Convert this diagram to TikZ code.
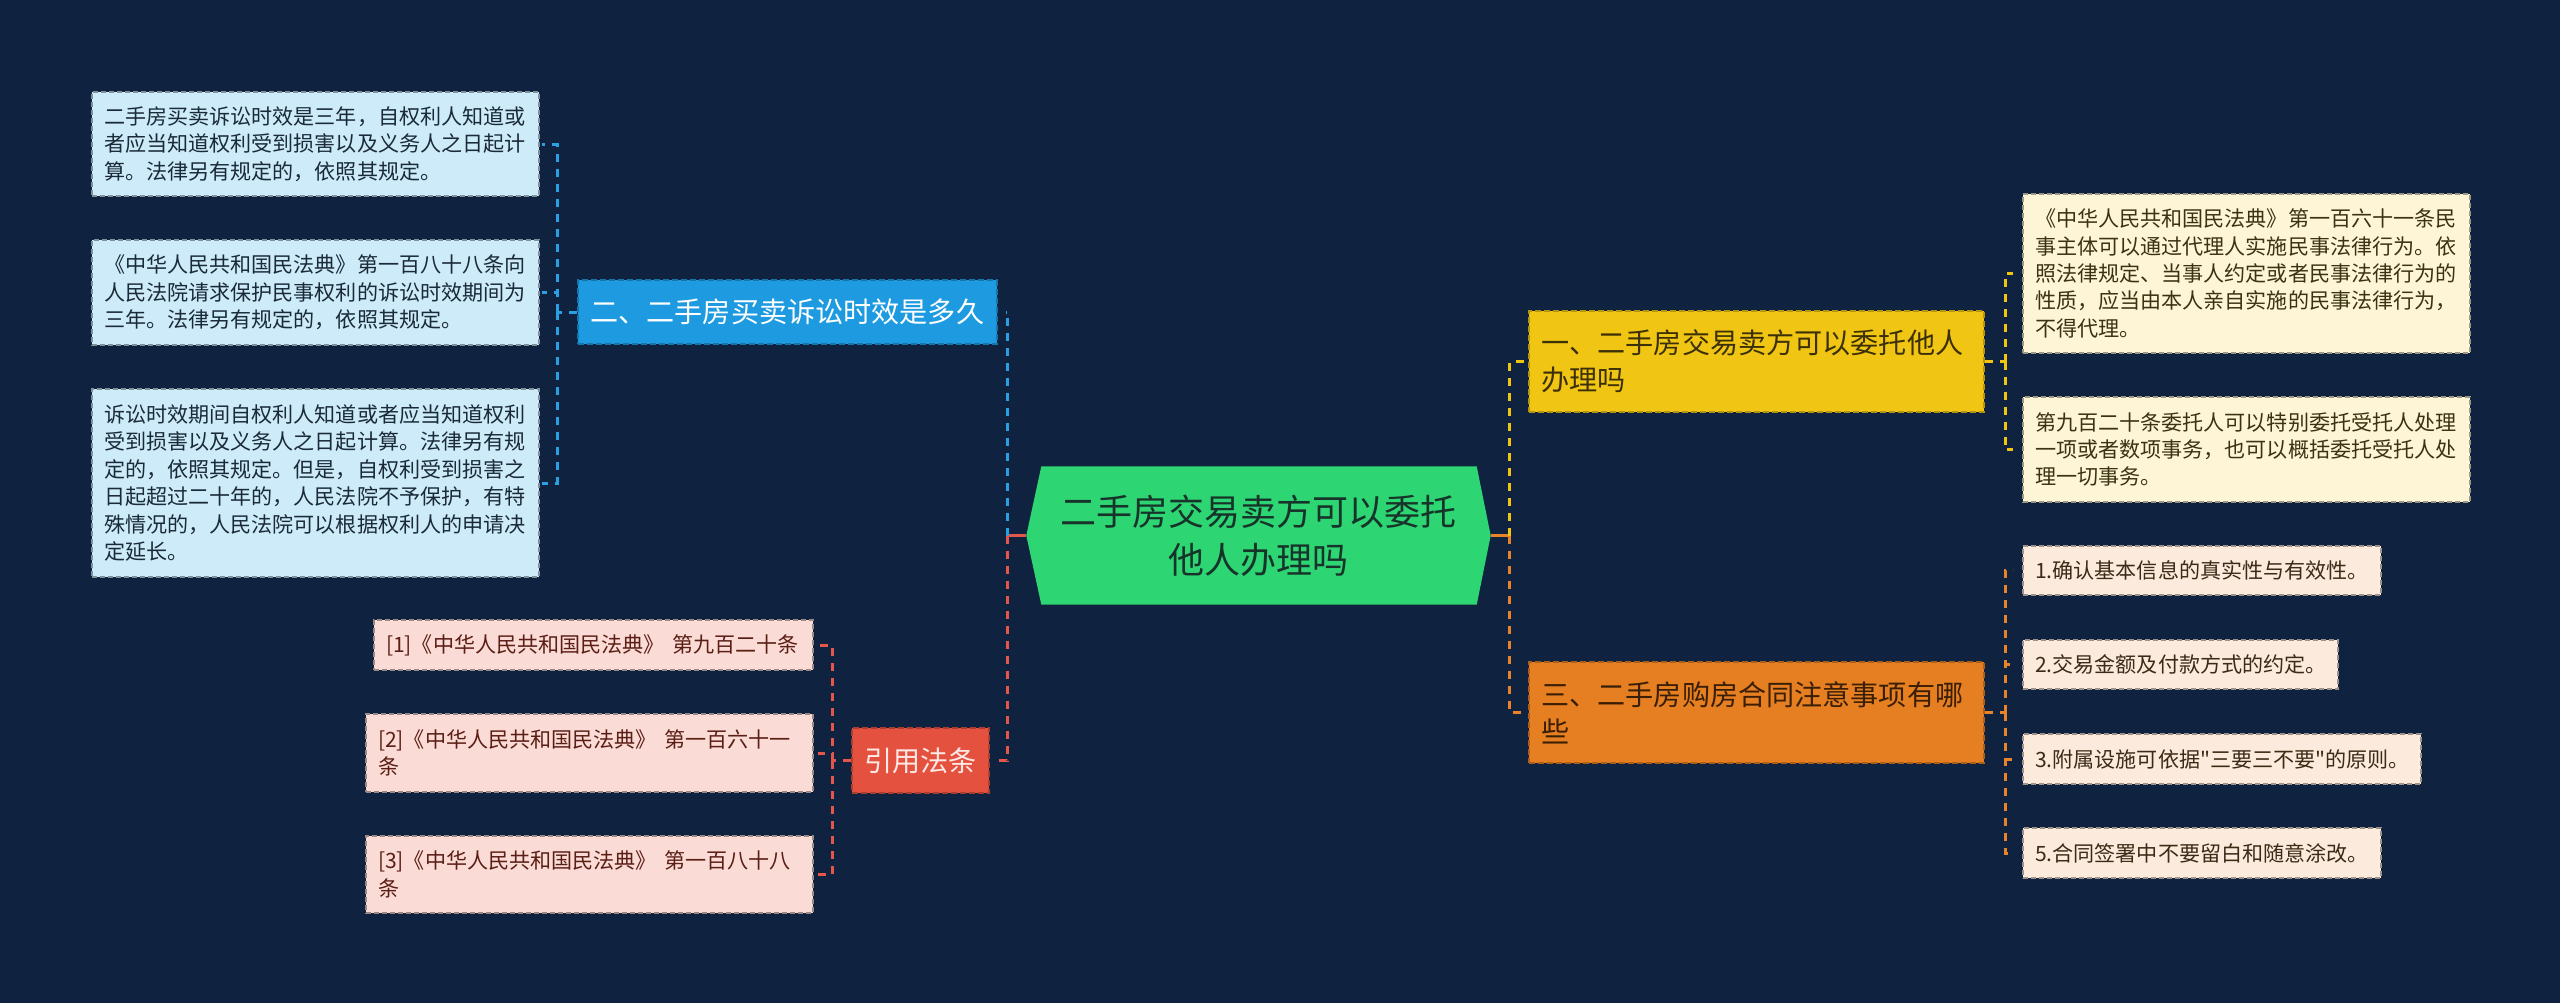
\documentclass[tikz,border=0pt]{standalone}
\usepackage{fontspec}
\newfontfamily\cjk{Noto Sans CJK SC}
\usepackage{tikz}
\usetikzlibrary{backgrounds}

\definecolor{bgnavy}{HTML}{0F223F}
\definecolor{rootgreen}{HTML}{2ED573}
\definecolor{roottxt}{HTML}{17342A}
\definecolor{linkblue}{HTML}{2A9FE2}
\definecolor{linkred}{HTML}{E2574A}
\definecolor{linkyellow}{HTML}{F1C40F}
\definecolor{linkorange}{HTML}{E8832A}
\definecolor{bluebr}{HTML}{1E9BE0}
\definecolor{redbr}{HTML}{E4513F}
\definecolor{yellowbr}{HTML}{F1C513}
\definecolor{orangebr}{HTML}{E57F22}
\definecolor{blueleaf}{HTML}{CDEBF8}
\definecolor{pinkleaf}{HTML}{FADBD6}
\definecolor{creamleaf}{HTML}{FDF5D5}
\definecolor{peachleaf}{HTML}{FCEBDC}
\definecolor{bluetxt}{HTML}{1A2A38}
\definecolor{pinktxt}{HTML}{5A1E14}
\definecolor{creamtxt}{HTML}{3A3312}
\definecolor{peachtxt}{HTML}{3D2A16}
\definecolor{redtxt}{HTML}{FFE9E5}
\definecolor{yellowtxt}{HTML}{3B3007}
\definecolor{orangetxt}{HTML}{3A1E05}

\begin{document}
\begin{tikzpicture}[x=0.1mm,y=-0.1mm,
  leaf/.style={anchor=north west,draw=#1!62!black,fill=#1,dash pattern=on 0.5mm off 0.3mm,
    line width=0.2mm,align=left,inner xsep=1.2mm,inner ysep=0pt,
    font=\cjk\fontsize{6}{7.8}\selectfont},
  branch/.style={anchor=north west,draw=#1!75!black,fill=#1,dash pattern=on 0.6mm off 0.3mm,
    line width=0.2mm,inner xsep=1.25mm,inner ysep=0pt,
    font=\cjk\fontsize{8}{10.5}\selectfont},
  link/.style={line width=0.3mm,dash pattern=on 0.8mm off 0.7mm}]
  \useasboundingbox (0,0) rectangle (2560,1003);

  \node[text=roottxt,align=center,minimum width=46.3mm,minimum height=13.7mm,inner sep=0pt,
    font=\cjk\fontsize{10.25}{13.65}\selectfont] (root) at (1258.5,535.5)
    {二手房交易卖方可以委托\\他人办理吗};

  % 左側
  \node[branch=bluebr,text=white,minimum width=41.1mm,minimum height=6.4mm] (bn) at (577,279)
    {二、二手房买卖诉讼时效是多久};
  \node[branch=redbr,text=redtxt,minimum width=13.7mm,minimum height=6.5mm] (rf) at (851,727)
    {引用法条};

  \node[leaf=blueleaf,text=bluetxt,text width=42.3mm,minimum height=10.4mm] (lb1) at (91,91)
    {二手房买卖诉讼时效是三年，自权利人知道或\\者应当知道权利受到损害以及义务人之日起计\\算。法律另有规定的，依照其规定。};
  \node[leaf=blueleaf,text=bluetxt,text width=42.3mm,minimum height=10.5mm] (lb2) at (91,239)
    {《中华人民共和国民法典》第一百八十八条向\\人民法院请求保护民事权利的诉讼时效期间为\\三年。法律另有规定的，依照其规定。};
  \node[leaf=blueleaf,text=bluetxt,text width=42.3mm,minimum height=18.8mm] (lb3) at (91,388)
    {诉讼时效期间自权利人知道或者应当知道权利\\受到损害以及义务人之日起计算。法律另有规\\定的，依照其规定。但是，自权利受到损害之\\日起超过二十年的，人民法院不予保护，有特\\殊情况的，人民法院可以根据权利人的申请决\\定延长。};

  \node[leaf=pinkleaf,text=pinktxt,text width=41.5mm,minimum height=5mm] (pk1) at (373,619)
    {[1]《中华人民共和国民法典》~第九百二十条};
  \node[leaf=pinkleaf,text=pinktxt,text width=42.3mm,minimum height=7.8mm] (pk2) at (365,713)
    {[2]《中华人民共和国民法典》~第一百六十一\\条};
  \node[leaf=pinkleaf,text=pinktxt,text width=42.3mm,minimum height=7.7mm] (pk3) at (365,835)
    {[3]《中华人民共和国民法典》~第一百八十八\\条};

  % 右側
  \node[branch=yellowbr,text=yellowtxt,align=left,text width=43mm,minimum height=10.1mm] (yn) at (1528,310)
    {一、二手房交易卖方可以委托他人\\办理吗};
  \node[branch=orangebr,text=orangetxt,align=left,text width=43mm,minimum height=10.1mm] (on) at (1528,661)
    {三、二手房购房合同注意事项有哪\\些};

  \node[leaf=creamleaf,text=creamtxt,text width=42.3mm,minimum height=15.9mm] (cr1) at (2022,193)
    {《中华人民共和国民法典》第一百六十一条民\\事主体可以通过代理人实施民事法律行为。依\\照法律规定、当事人约定或者民事法律行为的\\性质，应当由本人亲自实施的民事法律行为，\\不得代理。};
  \node[leaf=creamleaf,text=creamtxt,text width=42.3mm,minimum height=10.5mm] (cr2) at (2022,396)
    {第九百二十条委托人可以特别委托受托人处理\\一项或者数项事务，也可以概括委托受托人处\\理一切事务。};

  \node[leaf=peachleaf,text=peachtxt,text width=33.4mm,minimum height=4.9mm] (pe1) at (2022,545)
    {1.确认基本信息的真实性与有效性。};
  \node[leaf=peachleaf,text=peachtxt,text width=29.1mm,minimum height=4.9mm] (pe2) at (2022,639)
    {2.交易金额及付款方式的约定。};
  \node[leaf=peachleaf,text=peachtxt,text width=37.4mm,minimum height=5mm] (pe3) at (2022,733)
    {3.附属设施可依据"三要三不要"的原则。};
  \node[leaf=peachleaf,text=peachtxt,text width=33.4mm,minimum height=5mm] (pe4) at (2022,827)
    {5.合同签署中不要留白和随意涂改。};

  \begin{scope}[on background layer]
    \fill[bgnavy] (0,0) rectangle (2560,1003);
    \fill[rootgreen] (root.west) -- ([xshift=1.5mm]root.north west) -- ([xshift=-1.4mm]root.north east)
      -- (root.east) -- ([xshift=-1.4mm]root.south east) -- ([xshift=1.5mm]root.south west) -- cycle;
  \end{scope}

  \coordinate (jl) at ([xshift=-1.9mm]root.west);
  \coordinate (jr) at ([xshift=1.9mm]root.east);
  \draw[line width=0.3mm,linkred] (root.west) -- (jl);
  \draw[line width=0.3mm,linkorange] (root.east) -- (jr);
  \draw[link,linkblue,shorten >=0.8mm] (jl) |- (bn.east);
  \draw[link,linkred,shorten >=0.8mm] (jl) |- (rf.east);
  \draw[link,linkyellow,shorten >=0.4mm] (jr) |- (yn.west);
  \draw[link,linkorange,shorten >=0.4mm] (jr) |- (on.west);

  \coordinate (bj) at ([xshift=-2mm]bn.west);
  \draw[link,linkblue] (bn.west) -- (bj);
  \foreach \n in {lb1,lb2,lb3} {
    \draw[link,linkblue,shorten >=0.2mm] (bj) |- (\n.east);
  }
  \coordinate (rj) at ([xshift=-1.9mm]rf.west);
  \draw[link,linkred] (rf.west) -- (rj);
  \foreach \n in {pk1,pk2,pk3} {
    \draw[link,linkred,shorten >=0.4mm] (rj) |- (\n.east);
  }
  \coordinate (yj) at ([xshift=2mm]yn.east);
  \draw[link,linkyellow] (yn.east) -- (yj);
  \foreach \n in {cr1,cr2} {
    \draw[link,linkyellow,shorten >=0.9mm] (yj) |- (\n.west);
  }
  \coordinate (oj) at ([xshift=2mm]on.east);
  \draw[link,linkorange] (on.east) -- (oj);
  \foreach \n in {pe1,pe2,pe3,pe4} {
    \draw[link,linkorange,shorten >=0.9mm] (oj) |- (\n.west);
  }
\end{tikzpicture}
\end{document}
